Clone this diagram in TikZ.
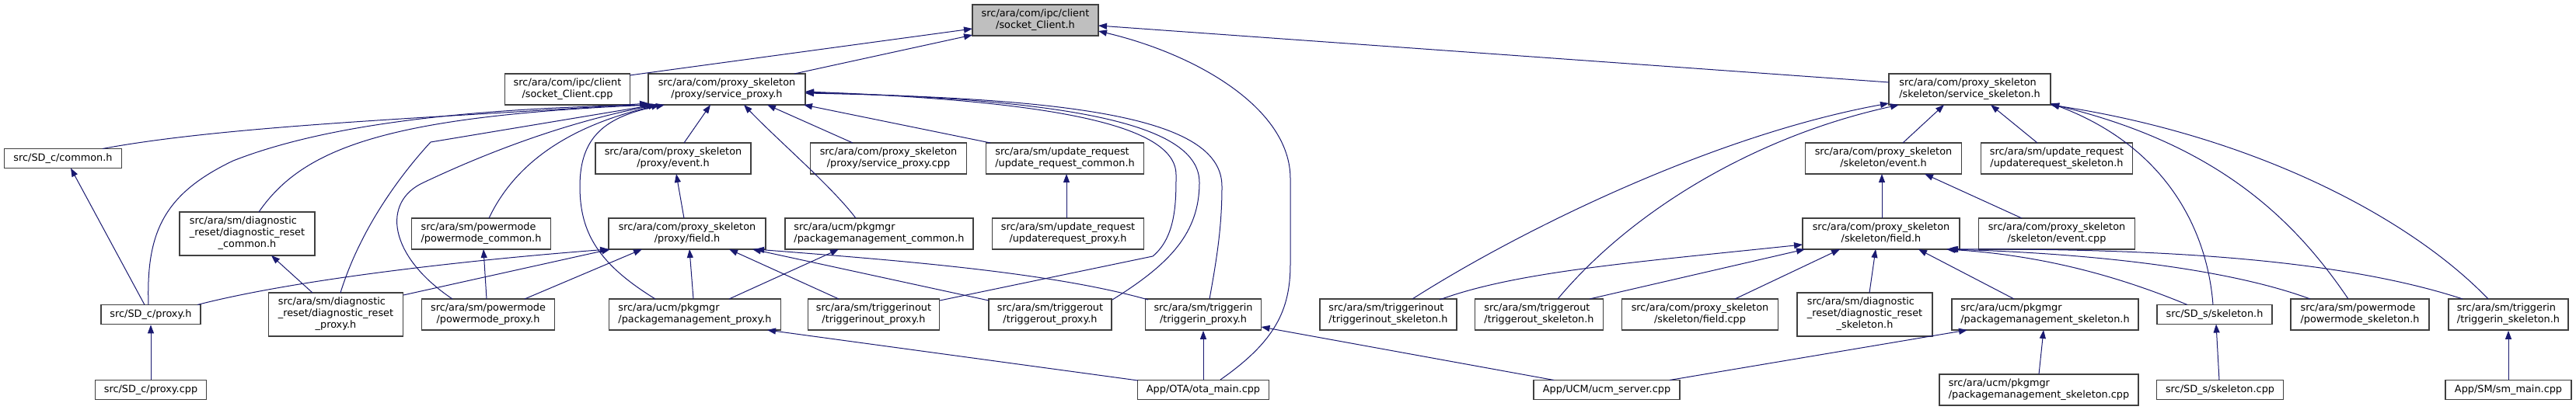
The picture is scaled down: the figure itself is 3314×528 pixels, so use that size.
\documentclass[tikz,border=0pt]{standalone}
\usepackage{fontspec}
\setmainfont{DejaVu Sans}
\usetikzlibrary{arrows.meta,calc}
\definecolor{edgec}{HTML}{191970}
\definecolor{rootc}{HTML}{BFBFBF}
\definecolor{boxc}{HTML}{404040}
\newcommand\twol[2]{\begin{tabular}{@{}l@{}}#1\\\multicolumn{1}{@{}c@{}}{#2}\end{tabular}}
\newcommand\threel[3]{\begin{tabular}{@{}l@{}}#1\\#2\\\multicolumn{1}{@{}c@{}}{#3}\end{tabular}}
\tikzset{
  box/.style={draw=boxc, line width=0.85pt, fill=white, inner sep=0pt, minimum height=20pt,
    font=\fontsize{6.42}{7.5}\selectfont},
  bw/.style={minimum width=#1*0.5pt},
  bh/.style={minimum height=#1*0.5pt},
  dep/.style={draw=edgec, line width=0.5pt, -{Triangle[length=5.5pt,width=4pt]}}
}
\begin{document}
\begin{tikzpicture}[x=0.5pt,y=-0.5pt]
\useasboundingbox (0,0) rectangle (3314,528);
% row 0
\node[box,bw=162,fill=rootc] (sch) at (1332,26) {\twol{src/ara/com/ipc/client}{/socket\_Client.h}};
% row 1
\node[box,bw=161] (scc) at (730,115) {\twol{src/ara/com/ipc/client}{/socket\_Client.cpp}};
\node[box,bw=202] (sph) at (935,115) {\twol{src/ara/com/proxy\_skeleton}{/proxy/service\_proxy.h}};
\node[box,bw=208] (ssh) at (2534,115) {\twol{src/ara/com/proxy\_skeleton}{/skeleton/service\_skeleton.h}};
% row 2
\node[box,bw=151,bh=25] (com) at (81,204) {src/SD\_c/common.h};
\node[box,bw=200] (pev) at (866,204) {\twol{src/ara/com/proxy\_skeleton}{/proxy/event.h}};
\node[box,bw=201] (spc) at (1143,204) {\twol{src/ara/com/proxy\_skeleton}{/proxy/service\_proxy.cpp}};
\node[box,bw=203] (urc) at (1370,204) {\twol{src/ara/sm/update\_request}{/update\_request\_common.h}};
\node[box,bw=201] (sev) at (2423,204) {\twol{src/ara/com/proxy\_skeleton}{/skeleton/event.h}};
\node[box,bw=195] (urs) at (2646,204) {\twol{src/ara/sm/update\_request}{/updaterequest\_skeleton.h}};
% row 3
\node[box,bw=174,bh=56] (drc) at (318,301) {\threel{src/ara/sm/diagnostic}{\_reset/diagnostic\_reset}{\_common.h}};
\node[box,bw=179] (pmc) at (619,301) {\twol{src/ara/sm/powermode}{/powermode\_common.h}};
\node[box,bw=202] (pfd) at (884,301) {\twol{src/ara/com/proxy\_skeleton}{/proxy/field.h}};
\node[box,bw=242] (pgc) at (1131,301) {\twol{src/ara/ucm/pkgmgr}{/packagemanagement\_common.h}};
\node[box,bw=195] (urp) at (1374,301) {\twol{src/ara/sm/update\_request}{/updaterequest\_proxy.h}};
\node[box,bw=202] (sfd) at (2420,301) {\twol{src/ara/com/proxy\_skeleton}{/skeleton/field.h}};
\node[box,bw=201] (sec) at (2646,301) {\twol{src/ara/com/proxy\_skeleton}{/skeleton/event.cpp}};
% row 4
\node[box,bw=128,bh=25] (sdp) at (194,405) {src/SD\_c/proxy.h};
\node[box,bw=173,bh=56] (drp) at (432,405) {\threel{src/ara/sm/diagnostic}{\_reset/diagnostic\_reset}{\_proxy.h}};
\node[box,bw=171] (pmp) at (628,405) {\twol{src/ara/sm/powermode}{/powermode\_proxy.h}};
\node[box,bw=221] (pgp) at (894,405) {\twol{src/ara/ucm/pkgmgr}{/packagemanagement\_proxy.h}};
\node[box,bw=169] (tiop) at (1124,405) {\twol{src/ara/sm/triggerinout}{/triggerinout\_proxy.h}};
\node[box,bw=158] (top) at (1351,405) {\twol{src/ara/sm/triggerout}{/triggerout\_proxy.h}};
\node[box,bw=149] (tip) at (1548,405) {\twol{src/ara/sm/triggerin}{/triggerin\_proxy.h}};
\node[box,bw=176] (tios) at (1786,405) {\twol{src/ara/sm/triggerinout}{/triggerinout\_skeleton.h}};
\node[box,bw=165] (tos) at (1980,405) {\twol{src/ara/sm/triggerout}{/triggerout\_skeleton.h}};
\node[box,bw=201] (sfc) at (2187,405) {\twol{src/ara/com/proxy\_skeleton}{/skeleton/field.cpp}};
\node[box,bw=174,bh=56] (drs) at (2399,405) {\threel{src/ara/sm/diagnostic}{\_reset/diagnostic\_reset}{\_skeleton.h}};
\node[box,bw=240] (pgs) at (2631,405) {\twol{src/ara/ucm/pkgmgr}{/packagemanagement\_skeleton.h}};
\node[box,bw=148,bh=25] (sds) at (2849,405) {src/SD\_s/skeleton.h};
\node[box,bw=178] (pms) at (3036,405) {\twol{src/ara/sm/powermode}{/powermode\_skeleton.h}};
\node[box,bw=154] (tis) at (3227,405) {\twol{src/ara/sm/triggerin}{/triggerin\_skeleton.h}};
% row 5
\node[box,bw=143,bh=25] (sdc) at (194,502) {src/SD\_c/proxy.cpp};
\node[box,bw=169,bh=25] (ota) at (1548,502) {App/OTA/ota\_main.cpp};
\node[box,bw=188,bh=25] (ucm) at (2067,502) {App/UCM/ucm\_server.cpp};
\node[box,bw=256] (pgsc) at (2623,502) {\twol{src/ara/ucm/pkgmgr}{/packagemanagement\_skeleton.cpp}};
\node[box,bw=163,bh=25] (sdsc) at (2856,502) {src/SD\_s/skeleton.cpp};
\node[box,bw=162,bh=25] (smm) at (3227,502) {App/SM/sm\_main.cpp};

% edges to socket_Client.h
\draw[dep] ($(scc)+(80,-18)$) -- ($(sch)+(-81,11)$);
\draw[dep] ($(sph)+(87,-20)$) -- ($(sch)+(-81,19)$);
\draw[dep] ($(ssh)+(-104,-9)$) -- ($(sch)+(81,7)$);
\draw[dep] ($(ota)+(22,-13)$) .. controls (1640,440) and (1660,400) .. (1660,340) -- (1660,230) .. controls (1660,140) and (1540,70) .. ($(sch)+(81,14)$);

% edges to service_proxy.h
\draw[dep] ($(com)+(51,-12.5)$) .. controls (300,160) and (600,150) .. ($(sph)+(-101,18)$);
\draw[dep] ($(sdp)+(-3,-12.5)$) .. controls (188,300) and (210,250) .. (300,207) .. controls (420,160) and (600,140) .. ($(sph)+(-99,20)$);
\draw[dep] ($(drc)+(15,-28)$) .. controls (390,190) and (500,150) .. ($(sph)+(-96,20)$);
\draw[dep] ($(drp)+(6,-28)$) .. controls (465,290) and (520,220) .. (554,183) -- ($(sph)+(-93,20)$);
\draw[dep] ($(pmp)+(-46,-20)$) .. controls (500,330) and (490,260) .. (545,235) .. controls (640,190) and (740,155) .. ($(sph)+(-90,20)$);
\draw[dep] ($(pmc)+(10,-20)$) .. controls (665,205) and (740,160) .. ($(sph)+(-86,20)$);
\draw[dep] ($(pgp)+(-51,-20)$) .. controls (770,340) and (746,300) .. (746,240) .. controls (746,175) and (780,150) .. ($(sph)+(-80,20)$);
\draw[dep] ($(pev)+(14,-20)$) -- ($(sph)+(-21,20)$);
\draw[dep] ($(pgc)+(-30,-20)$) .. controls (1070,240) and (1000,180) .. ($(sph)+(22,20)$);
\draw[dep] ($(spc)+(-46,-20)$) -- ($(sph)+(52,20)$);
\draw[dep] ($(urc)+(-96,-20)$) -- ($(sph)+(99,20)$);
\draw[dep] ($(tiop)+(85,-18)$) -- (1483,330) .. controls (1513,305) and (1513,260) .. (1513,225) .. controls (1513,160) and (1350,130) .. ($(sph)+(101,3)$);
\draw[dep] ($(top)+(80,-19)$) .. controls (1505,340) and (1543,300) .. (1543,235) .. controls (1543,160) and (1380,128) .. ($(sph)+(101,4)$);
\draw[dep] ($(tip)+(8,-20)$) .. controls (1566,330) and (1572,290) .. (1572,240) .. controls (1572,155) and (1400,127) .. ($(sph)+(101,5)$);

% proxy/event.h
\draw[dep] ($(pfd)+(-4,-20)$) -- ($(pev)+(4,20)$);

% proxy/field.h
\draw[dep] ($(sdp)+(60,-12.5)$) .. controls (380,360) and (600,335) .. ($(pfd)+(-101,20)$);
\draw[dep] ($(drp)+(87,-25)$) -- ($(pfd)+(-99,20)$);
\draw[dep] ($(pmp)+(47,-20)$) -- ($(pfd)+(-58,20)$);
\draw[dep] ($(pgp)+(-2,-20)$) -- ($(pfd)+(3,20)$);
\draw[dep] ($(tiop)+(-45,-20)$) -- ($(pfd)+(54,20)$);
\draw[dep] ($(top)+(-79,-18)$) -- ($(pfd)+(84,20)$);
\draw[dep] ($(tip)+(-71,-19)$) .. controls (1350,350) and (1150,335) .. ($(pfd)+(88,20)$);

% misc proxy side
\draw[dep] ($(pgp)+(44,-20)$) -- ($(pgc)+(-52,20)$);
\draw[dep] ($(urp)+(-2,-20)$) -- ($(urc)+(2,20)$);
\draw[dep] ($(drp)+(-30,-28)$) -- ($(drc)+(31,28)$);
\draw[dep] ($(pmp)+(-2,-20)$) -- ($(pmc)+(3,20)$);
\draw[dep] ($(sdp)+(-8,-12.5)$) -- ($(com)+(10,12.5)$);
\draw[dep] (sdc.north) -- (sdp.south);
\draw[dep] (ota.north) -- (tip.south);
\draw[dep] ($(ota)+(-84,-12)$) -- ($(pgp)+(93,20)$);
\draw[dep] ($(ucm)+(-68,-12.5)$) -- ($(tip)+(74.5,16)$);
\draw[dep] ($(ucm)+(81,-12.5)$) -- ($(pgs)+(-100,20)$);

% service_skeleton.h
\draw[dep] ($(sev)+(25,-20)$) -- ($(ssh)+(-33,20)$);
\draw[dep] ($(urs)+(-25,-20)$) -- ($(ssh)+(27,20)$);
\draw[dep] ($(tios)+(31,-20)$) .. controls (1950,300) and (2200,175) .. ($(ssh)+(-104,18)$);
\draw[dep] ($(tos)+(24,-20)$) .. controls (2100,270) and (2260,175) .. ($(ssh)+(-91,20)$);
\draw[dep] ($(sds)+(-2,-12.5)$) .. controls (2840,300) and (2790,190) .. ($(ssh)+(104,18)$);
\draw[dep] ($(pms)+(-15,-20)$) .. controls (2950,280) and (2850,185) .. ($(ssh)+(104,19)$);
\draw[dep] ($(tis)+(-26,-20)$) .. controls (3100,280) and (2900,175) .. ($(ssh)+(104,20)$);

% skeleton/event.h
\draw[dep] ($(sfd)+(1,-20)$) -- ($(sev)+(-2,20)$);
\draw[dep] ($(sec)+(-45,-20)$) -- ($(sev)+(53,20)$);

% skeleton/field.h
\draw[dep] ($(tios)+(66,-19)$) .. controls (1950,350) and (2100,338) .. ($(sfd)+(-101,14)$);
\draw[dep] ($(tos)+(65,-20)$) -- ($(sfd)+(-98,20)$);
\draw[dep] ($(sfc)+(45,-20)$) -- ($(sfd)+(-53,20)$);
\draw[dep] ($(drs)+(6,-28)$) -- ($(sfd)+(-7,20)$);
\draw[dep] ($(pgs)+(-40,-20)$) -- ($(sfd)+(48,20)$);
\draw[dep] ($(sds)+(-35,-12.5)$) .. controls (2700,345) and (2600,327) .. ($(sfd)+(84,20)$);
\draw[dep] ($(pms)+(-64,-20)$) .. controls (2850,340) and (2650,325) .. ($(sfd)+(86,20)$);
\draw[dep] ($(tis)+(-59,-20)$) .. controls (3000,330) and (2750,320) .. ($(sfd)+(88,20)$);

% bottom verticals
\draw[dep] ($(pgsc)+(0,-20)$) -- ($(pgs)+(-2,20)$);
\draw[dep] ($(sdsc)+(-1,-12.5)$) -- ($(sds)+(2,12.5)$);
\draw[dep] (smm.north) -- (tis.south);
\end{tikzpicture}
\end{document}
